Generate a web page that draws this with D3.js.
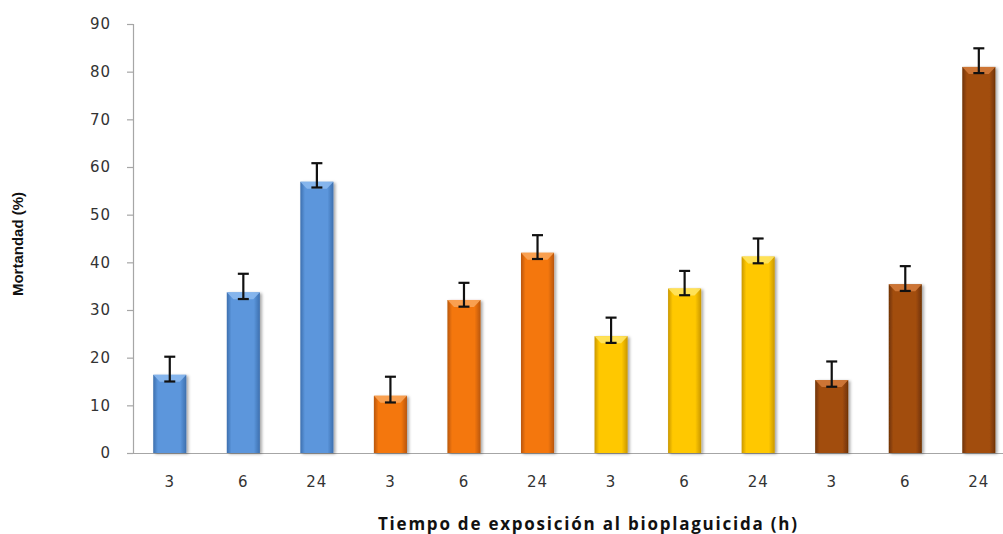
<!DOCTYPE html>
<html>
<head>
<meta charset="utf-8">
<script src="https://cdn.jsdelivr.net/npm/d3@7"></script>
<style>
  html, body { margin: 0; padding: 0; background: #ffffff; }
  svg { display: block; }
</style>
</head>
<body>
<svg id="chart" width="1003" height="534"></svg>
<script>
// Exposure times (hours) for each of the four treatment groups
const categories = ["3", "6", "24", "3", "6", "24", "3", "6", "24", "3", "6", "24"];
// Treatment group of each bar (selects the bar colour)
const groups = [0, 0, 0, 1, 1, 1, 2, 2, 2, 3, 3, 3];
// Mean mortality (%)
const values = [16.4, 33.7, 56.9, 12.0, 32.1, 42.0, 24.5, 34.5, 41.2, 15.3, 35.4, 81.0];
// Error bar extent above and below the mean
const errPlus = [3.8, 3.9, 3.9, 4.0, 3.6, 3.7, 3.9, 3.7, 3.8, 3.9, 3.8, 3.9];
const errMinus = [1.4, 1.4, 1.2, 1.4, 1.4, 1.3, 1.4, 1.4, 1.4, 1.4, 1.4, 1.3];
const yTicks = [0, 10, 20, 30, 40, 50, 60, 70, 80, 90];

const palette = [
  { main: "#5b96dc", dark: "#3d6fae", light: "#8ab8ee" },
  { main: "#f4770e", dark: "#b9560a", light: "#f9a458" },
  { main: "#ffc800", dark: "#c99700", light: "#ffe460" },
  { main: "#a24d0c", dark: "#6f3205", light: "#d27a3a" }
];

const svg = d3.select("#chart");
const x0 = 133, x1 = 133 + 12 * 73.55;
const x = d3.scaleBand().domain(d3.range(categories.length)).range([x0, x1]).paddingInner(0.55).paddingOuter(0.275);
const y = d3.scaleLinear().domain([0, 90]).range([453, 24]);

const defs = svg.append("defs");
palette.forEach((c, i) => {
  const g = defs.append("linearGradient").attr("id", "grad" + i)
    .attr("x1", "0%").attr("x2", "100%").attr("y1", "0%").attr("y2", "0%");
  g.append("stop").attr("offset", "0%").attr("stop-color", c.dark);
  g.append("stop").attr("offset", "14%").attr("stop-color", c.main);
  g.append("stop").attr("offset", "82%").attr("stop-color", c.main);
  g.append("stop").attr("offset", "100%").attr("stop-color", c.dark);
});
const sh = defs.append("filter").attr("id", "shadow").attr("x", "-30%").attr("y", "-10%").attr("width", "160%").attr("height", "120%");
sh.append("feDropShadow").attr("dx", 2).attr("dy", 1).attr("stdDeviation", 1.5)
  .attr("flood-color", "#000").attr("flood-opacity", 0.35);

// Y axis
const yAxis = svg.append("g").attr("transform", `translate(${x0},0)`)
  .call(d3.axisLeft(y).tickValues(yTicks).tickSize(6).tickPadding(16));
yAxis.select(".domain").attr("stroke", "#a6a6a6").attr("stroke-width", 1.2);
yAxis.selectAll(".tick line").attr("stroke", "#a6a6a6").attr("stroke-width", 1.2);
yAxis.selectAll(".tick text").attr("font-family", "DejaVu Sans, Verdana, sans-serif")
  .attr("font-size", 15).attr("letter-spacing", 1).attr("fill", "#333");

// X axis
const xAxis = svg.append("g").attr("transform", `translate(0,${y(0)})`)
  .call(d3.axisBottom(x).tickFormat(i => categories[i]).tickSize(0).tickPadding(23));
xAxis.select(".domain").attr("stroke", "#a6a6a6").attr("stroke-width", 1.2);
xAxis.selectAll(".tick text").attr("font-family", "DejaVu Sans, Verdana, sans-serif")
  .attr("font-size", 15).attr("letter-spacing", 1).attr("fill", "#333");

// Bars
const bars = svg.append("g").selectAll("g").data(values).join("g");
bars.append("rect")
  .attr("x", (d, i) => x(i)).attr("y", d => y(d))
  .attr("width", x.bandwidth()).attr("height", d => y(0) - y(d))
  .attr("fill", (d, i) => `url(#grad${groups[i]})`)
  .attr("filter", "url(#shadow)");
// Bevelled top face
bars.append("path")
  .attr("d", (d, i) => {
    const l = x(i), r = x(i) + x.bandwidth(), t = y(d), w = x.bandwidth();
    return `M${l},${t} L${r},${t} L${r - w * 0.2},${t + 7} L${l + w * 0.2},${t + 7} Z`;
  })
  .attr("fill", (d, i) => palette[groups[i]].light)
  .attr("opacity", 0.9);

// Error bars
const eb = svg.append("g").attr("stroke", "#111").attr("stroke-width", 2.2);
values.forEach((v, i) => {
  const cx = x(i) + x.bandwidth() / 2;
  const top = y(v + errPlus[i]), bot = y(v - errMinus[i]);
  eb.append("line").attr("x1", cx).attr("x2", cx).attr("y1", top).attr("y2", bot);
  eb.append("line").attr("x1", cx - 5.5).attr("x2", cx + 5.5).attr("y1", top).attr("y2", top);
  eb.append("line").attr("x1", cx - 5.5).attr("x2", cx + 5.5).attr("y1", bot).attr("y2", bot);
});

// Axis titles
svg.append("text")
  .attr("transform", "translate(23,244) rotate(-90)")
  .attr("text-anchor", "middle")
  .attr("font-family", "Liberation Sans, Arial, sans-serif")
  .attr("font-weight", "bold").attr("font-size", 15).attr("fill", "#111")
  .text("Mortandad (%)");
svg.append("text")
  .attr("x", 378).attr("y", 530)
  .attr("textLength", 419).attr("lengthAdjust", "spacing")
  .attr("font-family", "Open Sans, sans-serif")
  .attr("font-weight", "bold").attr("font-size", 17).attr("fill", "#111")
  .text("Tiempo de exposición al bioplaguicida (h)");
</script>
</body>
</html>
